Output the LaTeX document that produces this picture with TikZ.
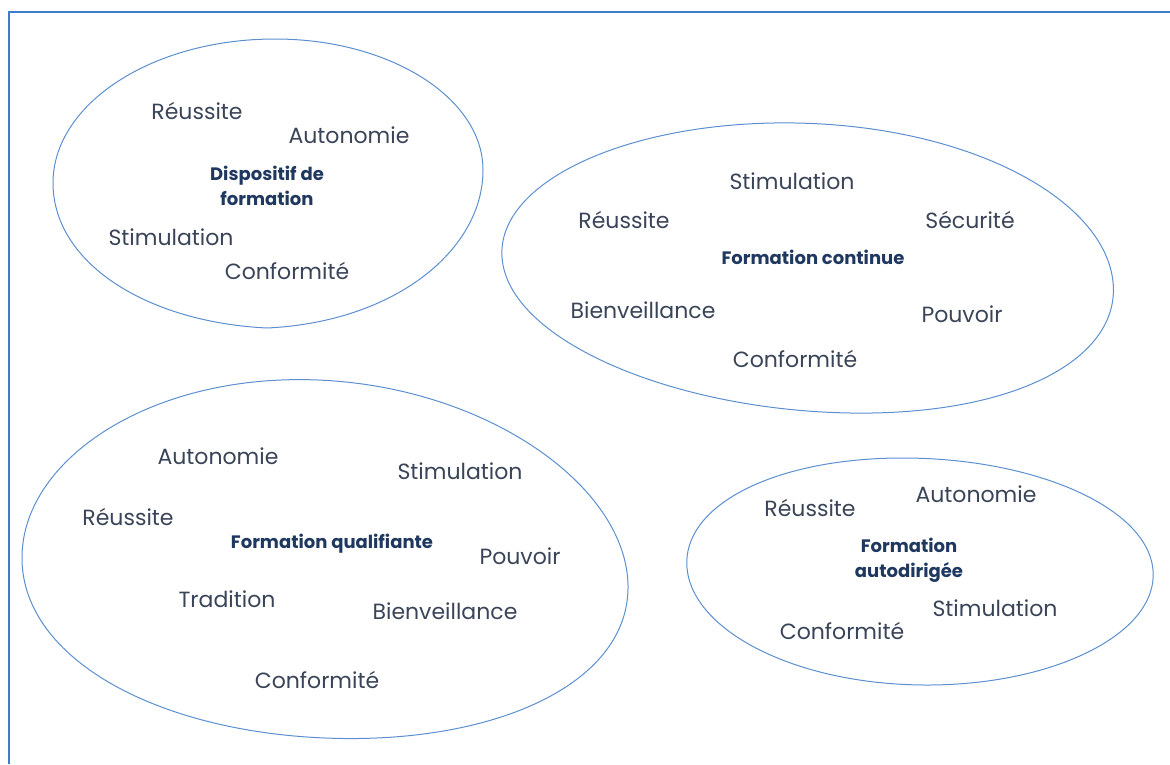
\documentclass[tikz,border=0pt]{standalone}
\usepackage{fontspec}
\setmainfont{Poppins}
\usepackage{tikz}

\definecolor{framblue}{RGB}{61,125,202}
\definecolor{blobblue}{RGB}{92,143,208}
\definecolor{wordgrey}{RGB}{58,68,88}
\definecolor{titlenavy}{RGB}{31,56,96}

\begin{document}
\begin{tikzpicture}[x=0.75pt, y=-0.75pt,
  value/.style={text=wordgrey, font=\fontsize{16.5}{20}\selectfont, inner sep=0pt},
  title/.style={text=titlenavy, font=\fontsize{13.5}{18.7}\selectfont\bfseries, align=center, inner sep=0pt},
  blob/.style={draw=blobblue, line width=0.75pt}]
\useasboundingbox (0,0) rectangle (1170,764);
\draw [framblue, line width=1.6pt] (9,764) -- (9,12) -- (1170,12);

\draw [blob] (53,183) .. controls (53,104) and (152,39) .. (275,39)
  .. controls (390,39) and (483,98) .. (483,170)
  .. controls (483,250) and (395,322) .. (267,328)
  .. controls (145,322) and (53,262) .. cycle;
\node [title] (dispo) at (267,186) {Dispositif de\\formation};
\node [value] (dreu) at (197,111) {Réussite};
\node [value] (daut) at (349,135) {Autonomie};
\node [value] (dsti) at (171,237) {Stimulation};
\node [value] (dcon) at (287,271) {Conformité};

\draw [blob] plot [smooth cycle, tension=1] coordinates {(503,265) (795,123) (1112,275) (850,413)};
\node [title] (cont) at (813,257) {Formation continue};
\node [value] (csti) at (792,181) {Stimulation};
\node [value] (creu) at (624,220) {Réussite};
\node [value] (csec) at (970,220) {Sécurité};
\node [value] (cbie) at (643,310) {Bienveillance};
\node [value] (cpou) at (962,314) {Pouvoir};
\node [value] (ccon) at (795,359) {Conformité};

\draw [blob] plot [smooth cycle, tension=1] coordinates {(22,560) (318,380) (628,585) (325,738)};
\node [title] (qual) at (332,544) {Formation qualifiante};
\node [value] (qaut) at (218,456) {Autonomie};
\node [value] (qsti) at (460,471) {Stimulation};
\node [value] (qreu) at (128,517) {Réussite};
\node [value] (qpou) at (520,556) {Pouvoir};
\node [value] (qtra) at (227,599) {Tradition};
\node [value] (qbie) at (445,611) {Bienveillance};
\node [value] (qcon) at (317,680) {Conformité};

\draw [blob] plot [smooth cycle, tension=1] coordinates {(687,568) (905,458) (1153,570) (925,685)};
\node [title] (auto) at (909,560) {Formation\\autodirigée};
\node [value] (areu) at (810,508) {Réussite};
\node [value] (aaut) at (976,494) {Autonomie};
\node [value] (asti) at (995,608) {Stimulation};
\node [value] (acon) at (842,631) {Conformité};
\end{tikzpicture}
\end{document}
